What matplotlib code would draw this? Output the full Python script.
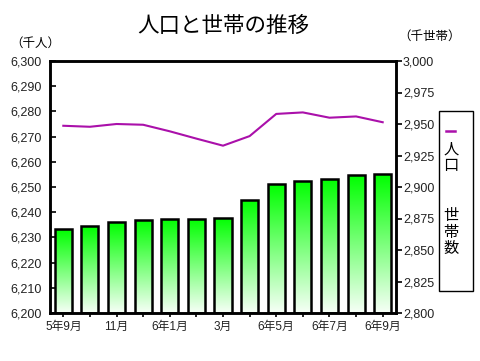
import matplotlib
matplotlib.use("Agg")
import matplotlib.pyplot as plt
import numpy as np
from matplotlib.patches import Rectangle
from matplotlib.lines import Line2D

plt.rcParams['font.family'] = ['Liberation Sans', 'Noto Sans CJK JP', 'DejaVu Sans']

months = ['5年9月', '10月', '11月', '12月', '6年1月', '2月', '3月', '4月',
          '6年5月', '6月', '6年7月', '8月', '6年9月']
tick_labels = ['5年9月', '', '11月', '', '6年1月', '', '3月', '',
               '6年5月', '', '6年7月', '', '6年9月']
population = [6274.3, 6273.9, 6275.0, 6274.7, 6272.1, 6269.2, 6266.4,
              6270.2, 6279.0, 6279.6, 6277.5, 6278.0, 6275.7]
households = [2866.4, 2868.8, 2872.2, 2874.0, 2874.8, 2874.8, 2875.6,
              2889.9, 2902.1, 2905.0, 2906.6, 2909.3, 2910.0]

fig = plt.figure(figsize=(4.8, 3.61), dpi=100)
L, R = 50 / 480, 396 / 480
B, T = (361 - 313) / 361, (361 - 61) / 361
ax = fig.add_axes([L, B, R - L, T - B])
ax2 = ax.twinx()

x = np.arange(len(months))
width = 0.64

# gradient bars on right axis
grad = np.linspace(0, 1, 256).reshape(-1, 1)
top_c = np.array([0.0, 1.0, 0.0])
bot_c = np.array([0.97, 1.0, 0.97])
img = (bot_c[None, None, :] * (1 - grad[..., None]) + top_c[None, None, :] * grad[..., None])
img = img[::-1]  # top row is top
bars = ax2.bar(x, np.array(households) - 2800, width=width, bottom=2800,
               facecolor='none', edgecolor='black', linewidth=1.8, zorder=3)
for b in bars:
    x0, y0 = b.get_x(), b.get_y()
    w, h = b.get_width(), b.get_height()
    im = ax2.imshow(img, extent=[x0, x0 + w, y0, y0 + h], aspect='auto',
                    zorder=2, interpolation='bilinear')
    im.set_clip_path(b)

ax2.set_ylim(2800, 3000)
ax2.set_yticks(np.arange(2800, 3001, 25))
ax2.set_yticklabels([f'{v:,}' for v in range(2800, 3001, 25)])
ax2.tick_params(axis='y', direction='out', length=4, width=1.2, labelsize=9,
                colors='black', labelcolor='#222222', pad=1)

# line on left axis, drawn above bars
ax.set_zorder(ax2.get_zorder() + 1)
ax.patch.set_visible(False)
ax.plot(x, population, color='#aa10aa', linewidth=1.5, zorder=5)
ax.set_ylim(6200, 6300)
ax.set_yticks(np.arange(6200, 6301, 10))
ax.set_yticklabels([f'{v:,}' for v in range(6200, 6301, 10)])
ax.tick_params(axis='y', direction='in', length=4, width=1.2, labelsize=9,
               labelcolor='#222222', pad=6)
ax.set_xlim(-0.5, 12.5)
ax.set_xticks(x)
ax.set_xticklabels(tick_labels)
ax.tick_params(axis='x', direction='out', length=3, width=1.2, labelsize=8.5,
               labelcolor='#222222', pad=3)
ax2.set_xlim(-0.5, 12.5)

for a in (ax, ax2):
    for s in a.spines.values():
        s.set_linewidth(1.8)
        s.set_color('black')

fig.text(0.465, 1 - 26 / 361, '人口と世帯の推移', ha='center', va='center', fontsize=15.5,
         family=['Noto Sans CJK JP'])
fig.text(10 / 480, 1 - 43 / 361, '（千人）', ha='left', va='center', fontsize=9,
         family=['Noto Sans CJK JP'])
fig.text(398 / 480, 1 - 36 / 361, '（千世帯）', ha='left', va='center', fontsize=9,
         family=['Noto Sans CJK JP'])

# custom legend
fig.patches.append(Rectangle((439 / 480, 1 - 291 / 361), 34 / 480, 180 / 361,
                             transform=fig.transFigure, facecolor='white',
                             edgecolor='black', linewidth=1.0))
fig.lines.append(Line2D([446 / 480, 455 / 480], [1 - 131 / 361, 1 - 131 / 361],
                        transform=fig.transFigure, color='#aa10aa', linewidth=1.8))
fig.text(451 / 480, 1 - 157 / 361, '人\n口', ha='center', va='center', fontsize=11,
         linespacing=0.95, family=['Noto Sans CJK JP'])
lax = fig.add_axes([446 / 480, 1 - 204 / 361, 7 / 480, 11 / 361])
lax.imshow(img, extent=[0, 1, 0, 1], aspect='auto')
lax.set_xticks([]); lax.set_yticks([])
for s in lax.spines.values():
    s.set_linewidth(1.8)
fig.text(451 / 480, 1 - 232 / 361, '世\n帯\n数', ha='center', va='center', fontsize=11,
         linespacing=0.95, family=['Noto Sans CJK JP'])

fig.savefig('out.png', dpi=100)
